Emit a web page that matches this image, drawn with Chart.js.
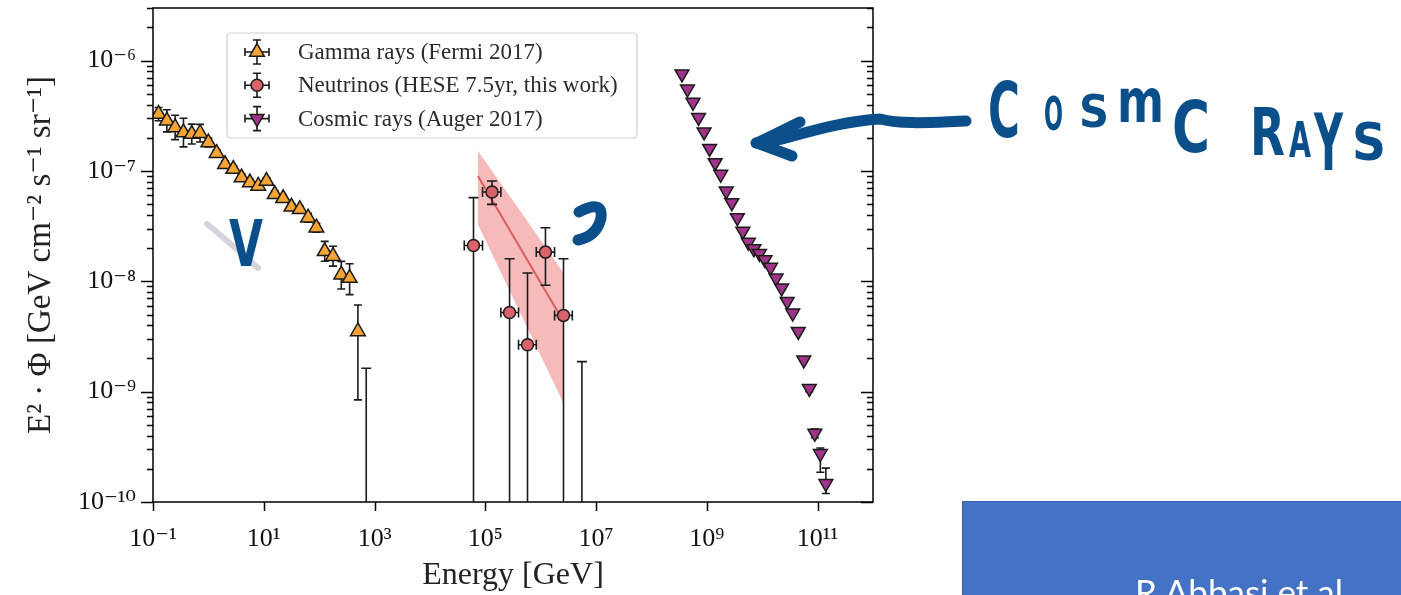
<!DOCTYPE html>
<html>
<head>
<meta charset="utf-8">
<script src="https://cdn.jsdelivr.net/npm/chart.js@4.4.0/dist/chart.umd.min.js"></script>
<style>
  body { margin: 0; background: #fff; width: 1401px; height: 595px; overflow: hidden; position: relative; }
  #chart { position: absolute; left: 0; top: 0; }
  #ink { position: absolute; left: 0; top: 0; pointer-events: none; }
  .ref { position: absolute; left: 962px; top: 501px; width: 439px; height: 94px; background: #4472C4;
         border-top: 1px solid #3b63ae; border-left: 1px solid #3b63ae; overflow: hidden; }
  .ref span { position: absolute; left: 172px; top: 68px; color: #fff; font: 35px Lato, "Open Sans", sans-serif; white-space: nowrap; }
</style>
</head>
<body>
<canvas id="chart" width="900" height="595"></canvas>

<svg id="ink" width="1401" height="595">
  <path d="M207,224 C222,236 240,252 258,268" stroke="#d4d4dc" stroke-width="6" fill="none" stroke-linecap="round"/>
  <g stroke="#0b4f8a" stroke-width="11" stroke-linecap="round" stroke-linejoin="round" fill="none">
    <path d="M966,121 C935,122 905,125 880,119 C845,121 812,131 782,139 L756,143"/>
    <path d="M800,122 L757,143 L792,156"/>
    <path d="M579,212 Q603,199 601,218 Q597,236 578,240"/>
  </g>
  <g fill="#0b4f8a" font-family="DejaVu Sans" font-weight="bold" lengthAdjust="spacingAndGlyphs">
    <text x="229" y="266" font-size="64" textLength="34" lengthAdjust="spacingAndGlyphs">V</text>
    <text x="988" y="137" font-size="76" textLength="32" lengthAdjust="spacingAndGlyphs">C</text>
    <text x="1044" y="130" font-size="46" textLength="19" lengthAdjust="spacingAndGlyphs">O</text>
    <text x="1079" y="127" font-size="45" textLength="30" lengthAdjust="spacingAndGlyphs">S</text>
    <text x="1117" y="122" font-size="60" textLength="47" lengthAdjust="spacingAndGlyphs">m</text>
    <text x="1172" y="152" font-size="72" textLength="38" lengthAdjust="spacingAndGlyphs">C</text>
    <text x="1250" y="155" font-size="66" textLength="35" lengthAdjust="spacingAndGlyphs">R</text>
    <text x="1289" y="157" font-size="50" textLength="22" lengthAdjust="spacingAndGlyphs">A</text>
    <text x="1314" y="170" font-size="78" textLength="29" lengthAdjust="spacingAndGlyphs">Y</text>
    <text x="1352" y="160" font-size="52" textLength="34" lengthAdjust="spacingAndGlyphs">S</text>
  </g>
</svg>

<div class="ref"><span>R Abbasi et al</span></div>

<script>
// ---- Gamma rays (Fermi 2017) ----
const gammaE    = [0.126, 0.178, 0.251, 0.355, 0.501, 0.708, 1.0, 1.41, 2.0, 2.82, 3.98, 5.62, 7.94,
                   11.2, 15.8, 22.4, 31.6, 44.7, 63.1, 89.1, 126, 178, 251, 355, 501];
const gammaFlux = [3.28e-7, 2.85e-7, 2.48e-7, 2.23e-7, 2.16e-7, 2.20e-7, 1.81e-7, 1.45e-7, 1.15e-7, 1.04e-7,
                   8.71e-8, 7.85e-8, 7.31e-8, 8.11e-8, 6.14e-8, 5.65e-8, 4.74e-8, 4.49e-8, 3.77e-8, 3.06e-8,
                   1.87e-8, 1.69e-8, 1.15e-8, 1.07e-8, 3.51e-9];
// error bars in dex
const gammaErrDn = [0.06, 0.10, 0.11, 0.13, 0.09, 0.08, 0.04, 0.03, 0.03, 0.03, 0.03, 0.03, 0.03,
                    0.03, 0.03, 0.03, 0.03, 0.03, 0.04, 0.04, 0.09, 0.09, 0.13, 0.15, 0.62];
const gammaErrUp = [0.06, 0.10, 0.11, 0.13, 0.09, 0.08, 0.04, 0.03, 0.03, 0.03, 0.03, 0.03, 0.03,
                    0.03, 0.03, 0.03, 0.03, 0.03, 0.04, 0.04, 0.09, 0.09, 0.12, 0.13, 0.24];
const gammaLimitE = [708];
const gammaLimitFlux = [1.63e-9];

// ---- Neutrinos (HESE 7.5yr) ----
const neuE      = [6.12e4, 1.32e5, 2.74e5, 5.78e5, 1.22e6, 2.58e6];
const neuEmin   = [4.17e4, 8.91e4, 1.91e5, 3.98e5, 8.32e5, 1.78e6];
const neuEmax   = [8.91e4, 1.91e5, 3.98e5, 8.32e5, 1.78e6, 3.72e6];
const neuFlux   = [2.11e-8, 6.44e-8, 5.22e-9, 2.66e-9, 1.84e-8, 4.91e-9];
const neuFluxHi = [5.73e-8, 8.11e-8, 1.60e-8, 1.19e-8, 3.06e-8, 1.60e-8];
const neuFluxLo = [1e-12, 4.98e-8, 1e-12, 1e-12, 9.2e-9, 1e-12];
const neuLimitE = [5.55e6];
const neuLimitFlux = [1.87e-9];

// best fit and its band
const bandE   = [7.35e4, 4.18e5, 2.58e6];
const bandHi  = [1.52e-7, 4.40e-8, 1.19e-8];
const bandLo  = [3.27e-8, 5.31e-9, 7.85e-10];
const fitE    = [7.35e4, 2.58e6];
const fitFlux = [9.02e-8, 4.33e-9];

// ---- Cosmic rays (Auger 2017) ----
const crE    = [3.55e8, 4.47e8, 5.62e8, 7.08e8, 8.91e8, 1.12e9, 1.41e9, 1.78e9, 2.24e9, 2.82e9,
                3.55e9, 4.47e9, 5.62e9, 7.08e9, 8.91e9, 1.12e10, 1.41e10, 1.78e10, 2.24e10, 2.82e10,
                3.55e10, 4.47e10, 5.62e10, 7.08e10, 8.91e10, 1.12e11, 1.41e11];
const crFlux = [7.57e-7, 5.53e-7, 4.19e-7, 3.06e-7, 2.26e-7, 1.60e-7, 1.19e-7, 9.33e-8, 6.58e-8, 5.16e-8,
                3.77e-8, 2.85e-8, 2.26e-8, 1.97e-8, 1.79e-8, 1.57e-8, 1.34e-8, 1.07e-8, 8.71e-9, 6.58e-9,
                5.16e-9, 3.51e-9, 1.94e-9, 1.07e-9, 4.19e-10, 2.75e-10, 1.47e-10];
const crErrDn = [0.01, 0.01, 0.01, 0.01, 0.01, 0.01, 0.01, 0.01, 0.01, 0.01, 0.01, 0.01, 0.01, 0.01,
                 0.01, 0.01, 0.01, 0.01, 0.01, 0.01, 0.01, 0.02, 0.02, 0.03, 0.04, 0.17, 0.09];
const crErrUp = [0.01, 0.01, 0.01, 0.01, 0.01, 0.01, 0.01, 0.01, 0.01, 0.01, 0.01, 0.01, 0.01, 0.01,
                 0.01, 0.01, 0.01, 0.01, 0.01, 0.01, 0.01, 0.02, 0.02, 0.03, 0.04, 0.05, 0.14];

// ---- axes ----
const xTicks = [1e-1, 1e1, 1e3, 1e5, 1e7, 1e9, 1e11];
const xMin = 0.1, xMax = 1e12;
const yMin = 1e-10, yMax = 3e-6;

const SUP = {'-': '\u207B', '0': '\u2070', '1': '\u00B9', '2': '\u00B2', '3': '\u00B3', '4': '\u2074',
             '5': '\u2075', '6': '\u2076', '7': '\u2077', '8': '\u2078', '9': '\u2079'};
function isPow10(v) { const l = Math.log10(v); return Math.abs(l - Math.round(l)) < 1e-6; }
function powLabel(v) {
    if (!isPow10(v)) return '';
    return '10' + String(Math.round(Math.log10(v))).split('').map(c => SUP[c]).join('');
}

function withDex(xs, ys, dn, up) {
    return xs.map((x, i) => ({x: x, y: ys[i], yMin: ys[i] / Math.pow(10, dn[i]), yMax: ys[i] * Math.pow(10, up[i])}));
}

const gammaPts = withDex(gammaE, gammaFlux, gammaErrDn, gammaErrUp);
const crPts = withDex(crE, crFlux, crErrDn, crErrUp);
const neuPts = neuE.map((x, i) => ({x: x, y: neuFlux[i], yMin: neuFluxLo[i], yMax: neuFluxHi[i], xMin: neuEmin[i], xMax: neuEmax[i]}));
const limitPts = gammaLimitE.map((x, i) => ({x: x, y: gammaLimitFlux[i], yMin: 1e-12, yMax: gammaLimitFlux[i]}))
    .concat(neuLimitE.map((x, i) => ({x: x, y: neuLimitFlux[i], yMin: 1e-12, yMax: neuLimitFlux[i]})));

const EDGE = '#1a1a1a';

// error bars, drawn just before the markers of each dataset
const errorBars = {
    id: 'errorBars',
    beforeDatasetDraw(chart, args) {
        const ds = chart.data.datasets[args.index];
        if (!ds.bars) return;
        const {ctx, chartArea: a} = chart;
        const sx = chart.scales.x, sy = chart.scales.y;
        const cap = ds.cap || 4;
        ctx.save();
        ctx.beginPath();
        ctx.rect(a.left, a.top, a.right - a.left, a.bottom - a.top);
        ctx.clip();
        ctx.strokeStyle = EDGE;
        ctx.lineWidth = 1.6;
        ctx.beginPath();
        ds.data.forEach(p => {
            const px = sx.getPixelForValue(p.x), py = sy.getPixelForValue(p.y);
            const y0 = sy.getPixelForValue(p.yMin), y1 = sy.getPixelForValue(p.yMax);
            ctx.moveTo(px, y0); ctx.lineTo(px, y1);
            ctx.moveTo(px - cap, y0); ctx.lineTo(px + cap, y0);
            ctx.moveTo(px - cap, y1); ctx.lineTo(px + cap, y1);
            if (p.xMin) {
                const x0 = sx.getPixelForValue(p.xMin), x1 = sx.getPixelForValue(p.xMax);
                ctx.moveTo(x0, py); ctx.lineTo(x1, py);
                ctx.moveTo(x0, py - cap); ctx.lineTo(x0, py + cap);
                ctx.moveTo(x1, py - cap); ctx.lineTo(x1, py + cap);
            }
        });
        ctx.stroke();
        ctx.restore();
    }
};

// frame and tick marks
const frame = {
    id: 'frame',
    afterDraw(chart) {
        const {ctx, chartArea: a} = chart;
        const sx = chart.scales.x, sy = chart.scales.y;
        ctx.save();
        ctx.strokeStyle = '#000';
        ctx.lineWidth = 1.5;
        ctx.strokeRect(a.left, a.top, a.right - a.left, a.bottom - a.top);
        ctx.beginPath();
        sy.ticks.forEach(t => {
            const py = Math.round(sy.getPixelForValue(t.value)) + 0.5;
            const len = isPow10(t.value) ? 12 : 6;
            ctx.moveTo(a.left - len, py); ctx.lineTo(a.left, py);
            ctx.moveTo(a.right - len, py); ctx.lineTo(a.right, py);
        });
        sx.ticks.forEach(t => {
            const px = Math.round(sx.getPixelForValue(t.value)) + 0.5;
            ctx.moveTo(px, a.bottom); ctx.lineTo(px, a.bottom + 9);
        });
        ctx.stroke();
        ctx.restore();
    }
};

// legend box inside the axes
const legendBox = {
    id: 'legendBox',
    afterDraw(chart) {
        const ctx = chart.ctx;
        const items = chart.data.datasets.filter(d => d.legendLabel);
        const bx = 227, by = 33, bw = 410, bh = 105;
        ctx.save();
        ctx.beginPath();
        ctx.roundRect(bx, by, bw, bh, 4);
        ctx.fillStyle = 'rgba(255,255,255,0.85)';
        ctx.fill();
        ctx.strokeStyle = '#cfcfcf';
        ctx.lineWidth = 1.2;
        ctx.stroke();
        items.forEach((d, i) => {
            const mx = 257, my = 52 + i * 33.3;
            ctx.strokeStyle = EDGE;
            ctx.lineWidth = 1.6;
            ctx.beginPath();
            ctx.moveTo(mx, my - 12); ctx.lineTo(mx, my + 12);
            ctx.moveTo(mx - 4, my - 12); ctx.lineTo(mx + 4, my - 12);
            ctx.moveTo(mx - 4, my + 12); ctx.lineTo(mx + 4, my + 12);
            ctx.moveTo(mx - 12, my); ctx.lineTo(mx + 12, my);
            ctx.moveTo(mx - 12, my - 4); ctx.lineTo(mx - 12, my + 4);
            ctx.moveTo(mx + 12, my - 4); ctx.lineTo(mx + 12, my + 4);
            ctx.stroke();
            ctx.fillStyle = d.backgroundColor;
            ctx.strokeStyle = d.borderColor;
            ctx.lineWidth = d.borderWidth;
            Chart.helpers.drawPoint(ctx, {pointStyle: d.pointStyle, radius: d.pointRadius, rotation: d.rotation || 0, borderWidth: d.borderWidth}, mx, my);
            ctx.fillStyle = '#2b2b2b';
            ctx.font = '23px "Liberation Serif", "DejaVu Serif", serif';
            ctx.textBaseline = 'middle';
            ctx.fillText(d.legendLabel, 298, my + 1);
        });
        ctx.restore();
    }
};

Chart.defaults.font.family = '"Liberation Serif", "DejaVu Serif", serif';
Chart.defaults.color = '#111';

new Chart(document.getElementById('chart').getContext('2d'), {
    type: 'scatter',
    data: {
        datasets: [
            {
                label: 'Gamma rays', legendLabel: 'Gamma rays (Fermi 2017)', data: gammaPts, bars: true, cap: 4,
                pointStyle: 'triangle', pointRadius: 8.5, backgroundColor: '#F5A536', borderColor: EDGE, borderWidth: 1.5, order: 3
            },
            {
                label: 'Neutrinos', legendLabel: 'Neutrinos (HESE 7.5yr, this work)', data: neuPts, bars: true, cap: 5,
                pointStyle: 'circle', pointRadius: 6, backgroundColor: '#D8636A', borderColor: EDGE, borderWidth: 1.5, order: 2
            },
            {
                label: 'Cosmic rays', legendLabel: 'Cosmic rays (Auger 2017)', data: crPts, bars: true, cap: 4,
                pointStyle: 'triangle', rotation: 180, pointRadius: 8, backgroundColor: '#A0338A', borderColor: EDGE, borderWidth: 1.5, order: 1
            },
            {
                label: 'Upper limits', data: limitPts, bars: true, cap: 5, pointRadius: 0, order: 5
            },
            {
                label: 'Best fit', data: fitE.map((x, i) => ({x: x, y: fitFlux[i]})), showLine: true,
                borderColor: 'rgba(214,78,78,0.85)', borderWidth: 2, pointRadius: 0, order: 9
            },
            {
                label: 'Band upper', data: bandE.map((x, i) => ({x: x, y: bandHi[i]})), showLine: true,
                borderWidth: 0, borderColor: 'rgba(0,0,0,0)', pointRadius: 0, fill: '+1',
                backgroundColor: 'rgba(240,130,130,0.55)', order: 10
            },
            {
                label: 'Band lower', data: bandE.map((x, i) => ({x: x, y: bandLo[i]})), showLine: true,
                borderWidth: 0, borderColor: 'rgba(0,0,0,0)', pointRadius: 0, order: 11
            }
        ]
    },
    options: {
        responsive: false,
        animation: false,
        layout: { autoPadding: false, padding: { left: 0, top: 8, right: 27, bottom: 0 } },
        plugins: { legend: { display: false }, tooltip: { enabled: false } },
        scales: {
            x: {
                type: 'logarithmic', min: xMin, max: xMax, position: 'bottom',
                grid: { display: false, drawTicks: false }, border: { display: false },
                afterBuildTicks: s => { s.ticks = xTicks.map(v => ({value: v})); },
                afterFit: s => { s.height = 93; s.paddingLeft = 0; s.paddingRight = 0; },
                ticks: { autoSkip: false, maxRotation: 0, padding: 22, color: '#111', font: { size: 26 }, callback: v => powLabel(v) },
                title: { display: true, text: 'Energy [GeV]', color: '#222', font: { size: 32 }, padding: { top: 0, bottom: 0 } }
            },
            y: {
                type: 'logarithmic', min: yMin, max: yMax,
                grid: { display: false, drawTicks: false }, border: { display: false },
                afterBuildTicks: s => {
                    const t = [];
                    for (let e = -10; e <= -6; e++) {
                        for (let k = 1; k <= 9; k++) {
                            const v = k * Math.pow(10, e);
                            if (v <= yMax * 1.0001) t.push({value: v});
                        }
                    }
                    s.ticks = t;
                },
                afterFit: s => { s.width = 153; s.paddingTop = 0; s.paddingBottom = 0; },
                ticks: { autoSkip: false, padding: 17, color: '#111', font: { size: 26 }, callback: v => powLabel(v) },
                title: { display: true, text: 'E\u00B2 \u00B7 \u03A6 [GeV cm\u207B\u00B2 s\u207B\u00B9 sr\u207B\u00B9]', color: '#222',
                         font: { size: 33 }, padding: { top: 22, bottom: 0 } }
            }
        }
    },
    plugins: [errorBars, frame, legendBox]
});
</script>
</body>
</html>
